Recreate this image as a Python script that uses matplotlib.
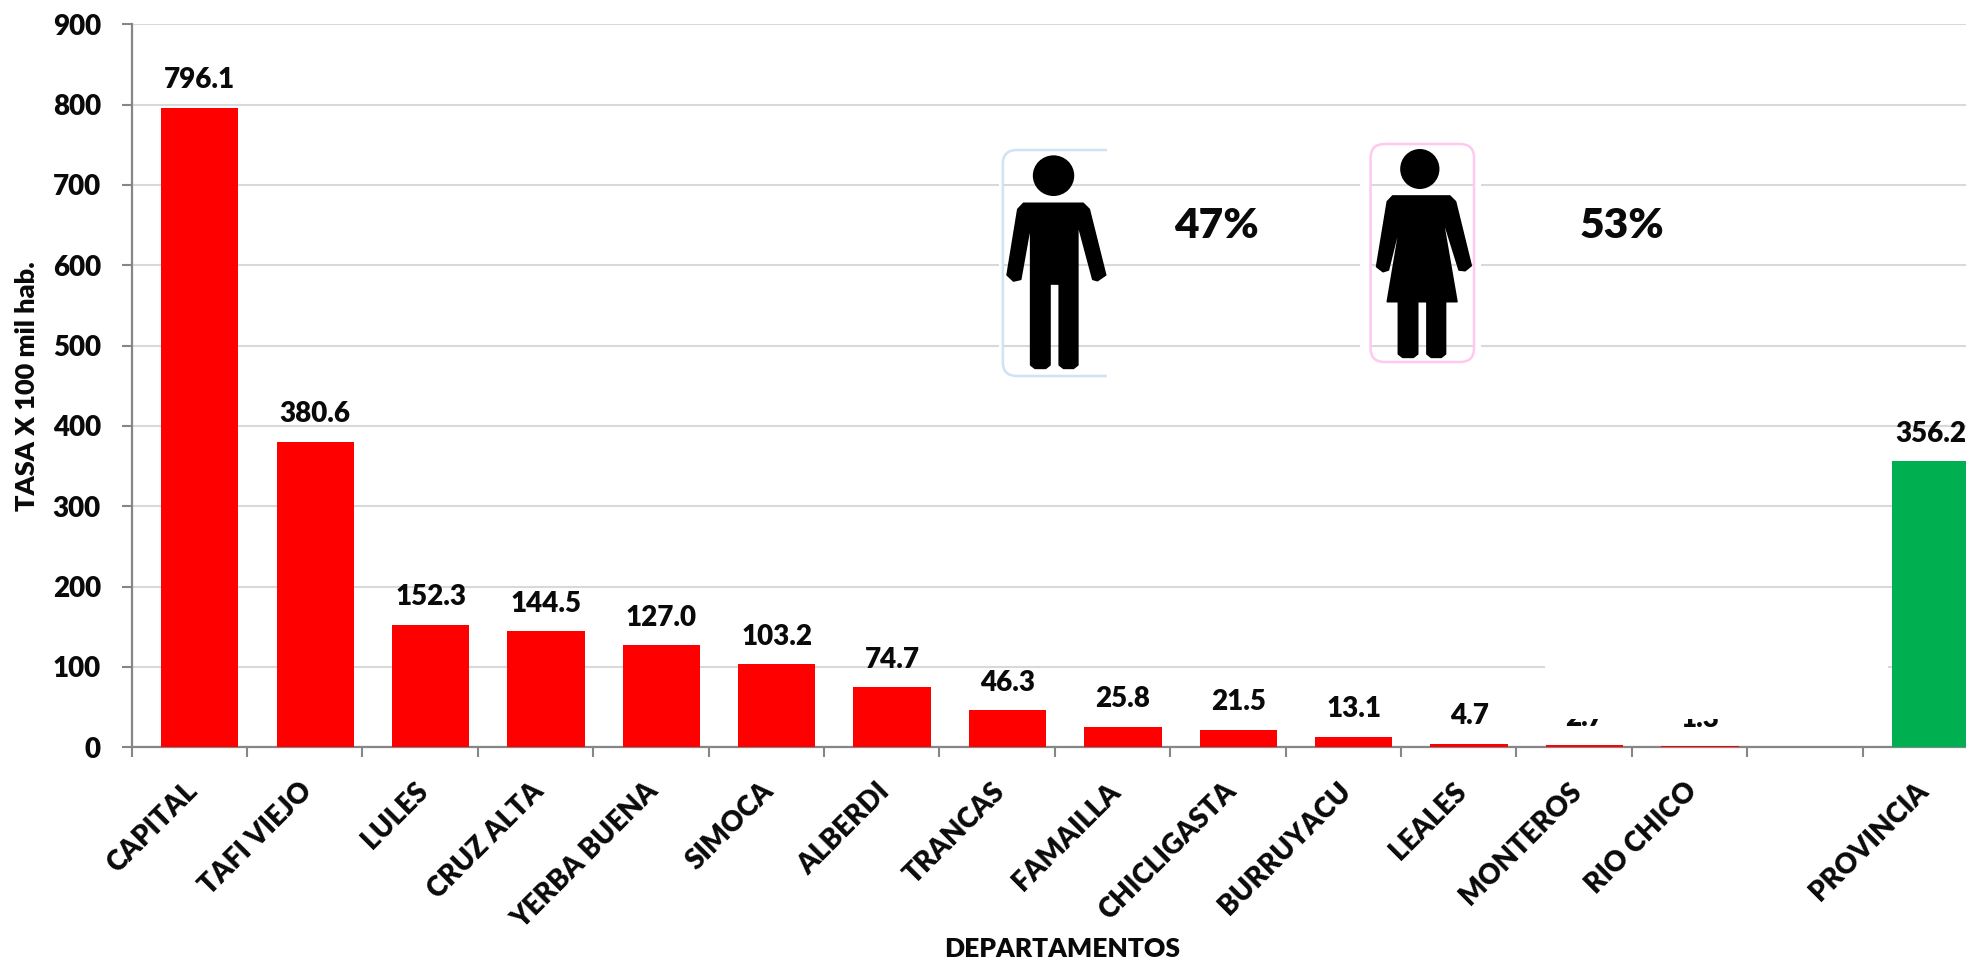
import matplotlib
matplotlib.use("Agg")
import matplotlib.pyplot as plt
from matplotlib.patches import Polygon, Ellipse, Rectangle, FancyBboxPatch

plt.rcParams['font.family'] = ['Lato', 'DejaVu Sans']
plt.rcParams['font.weight'] = 'heavy'

departamentos = ["CAPITAL", "TAFI VIEJO", "LULES", "CRUZ ALTA", "YERBA BUENA", "SIMOCA", "ALBERDI",
                 "TRANCAS", "FAMAILLA", "CHICLIGASTA", "BURRUYACU", "LEALES", "MONTEROS", "RIO CHICO"]
tasas = [796.1, 380.6, 152.3, 144.5, 127.0, 103.2, 74.7, 46.3, 25.8, 21.5, 13.1, 4.7, 2.7, 1.3]
provincia = "PROVINCIA"
tasa_provincia = 356.2
pct_varones = "47%"
pct_mujeres = "53%"
yticks = list(range(0, 901, 100))

W, H = 1966, 963
TXT = "#0a0a0a"
fig = plt.figure(figsize=(W / 100, H / 100), dpi=100)

# axes runs past the right edge of the picture, the green bar is cut off there
left, right, top, bottom = 131.7, 1978, 24.3, 747.3
ax = fig.add_axes([left / W, 1 - bottom / H, (right - left) / W, (bottom - top) / H])

pos = list(range(len(tasas)))
pos_prov = len(tasas) + 1
shift = 0.09  # bars sit a bit right of the middle of their slot
ax.bar([p + shift for p in pos], tasas, width=0.67, color="#ff0000", zorder=3)
ax.bar([pos_prov + shift], [tasa_provincia], width=0.67, color="#00b050", zorder=5)

for p, v in zip(pos + [pos_prov], tasas + [tasa_provincia]):
    ax.annotate(f"{v:.1f}", (p + shift, v), xytext=(0, 10.5), textcoords="offset points",
                ha="center", va="bottom", fontsize=20, color=TXT, zorder=4)

ax.set_xlim(-0.5, 15.5)
ax.set_ylim(0, 900)
ax.set_yticks(yticks)
ax.set_xticks([i - 0.5 for i in range(17)], labels=[])
ax.tick_params(axis="y", length=7.2, width=1.5, color="#868686", labelsize=20, labelcolor=TXT, pad=15)
ax.tick_params(axis="x", length=7.2, width=1.5, color="#868686")
ax.grid(axis="y", color="#d9d9d9", linewidth=1.5, zorder=0)
ax.set_axisbelow(True)
for s in ["top", "right"]:
    ax.spines[s].set_visible(False)
for s in ["left", "bottom"]:
    ax.spines[s].set_color("#868686")
    ax.spines[s].set_linewidth(1.6)
    ax.spines[s].set_zorder(2)

for p, name in zip(pos + [pos_prov], departamentos + [provincia]):
    ax.annotate(name, (p, 0), xytext=(-4, -22), textcoords="offset points", rotation=45,
                ha="right", va="top", rotation_mode="anchor", fontsize=20, color=TXT,
                annotation_clip=False)

fig.text(27 / W, 1 - 386 / H, "TASA X 100 mil hab.", rotation=90, ha="center", va="center",
         fontsize=19.5, color=TXT)
fig.text(1062 / W, 1 - 949 / H, "DEPARTAMENTOS", ha="center", va="center",
         fontsize=19, color=TXT)

# overlay in picture pixels for the pasted icons and white covers
ov = fig.add_axes([0, 0, 1, 1], facecolor="none")
ov.set_xlim(0, W)
ov.set_ylim(H, 0)
ov.axis("off")

# white box that hides the end of the 100 line and the top of the two last labels
ov.add_patch(Rectangle((1545, 600), 1888 - 1545, 119, color="white", lw=0, zorder=1))


def px(pts):
    return [(960 + x * 0.357, 120 + y / 3) for x, y in pts]


# small white gaps around the icons
for x0, x1 in [(108, 120), (1120, 1150), (1440, 1459)]:
    a = px([(x0, 90)])[0][0]
    b = px([(x1, 90)])[0][0]
    ov.add_patch(Rectangle((a, 140), b - a, 240, color="white", lw=0, zorder=1))

# icon frames, the man's frame is cut off on its right side
(x0, y0), (x1, y1) = px([(120, 90), (412, 768)])
man_frame = FancyBboxPatch((x0 + 14, y0 + 14), x1 - x0, y1 - y0 - 28,
                           boxstyle="round,pad=14,rounding_size=14", fc="none", ec="#cfe2f7", lw=1.8, zorder=2)
ov.add_patch(man_frame)
man_frame.set_clip_path(Rectangle((x0 - 5, y0 - 5), x1 - x0 + 5, y1 - y0 + 10, transform=ov.transData))
(x0, y0), (x1, y1) = px([(1150, 72), (1440, 726)])
ov.add_patch(FancyBboxPatch((x0 + 14, y0 + 14), x1 - x0 - 28, y1 - y0 - 28,
                            boxstyle="round,pad=14,rounding_size=14", fc="none", ec="#ffc8ee", lw=1.8, zorder=2))

# man
(cx, cy) = px([(262, 167)])[0]
ov.add_patch(Ellipse((cx, cy), 116 * 0.357, 122 / 3, color="black", lw=0, zorder=3))
ov.add_patch(Polygon(px([(178, 250), (345, 250), (362, 268), (408, 465), (385, 482), (372, 478), (330, 310),
                         (330, 735), (318, 745), (290, 745), (278, 735), (278, 492), (252, 492), (252, 735),
                         (240, 745), (210, 745), (198, 735), (198, 310), (170, 478), (150, 483), (132, 465),
                         (162, 268)]), closed=True, fc="black", ec="black", lw=1.2, joinstyle="round", zorder=3))
# woman
(cx, cy) = px([(1288, 147)])[0]
ov.add_patch(Ellipse((cx, cy), 110 * 0.357, 120 / 3, color="black", lw=0, zorder=3))
ov.add_patch(Polygon(px([(1212, 228), (1372, 228), (1388, 245), (1432, 437), (1415, 452), (1398, 450), (1350, 285),
                         (1392, 545), (1360, 545), (1360, 702), (1348, 712), (1320, 712), (1308, 702), (1308, 545),
                         (1282, 545), (1282, 702), (1270, 712), (1240, 712), (1228, 702), (1228, 545), (1197, 545),
                         (1238, 285), (1200, 450), (1185, 455), (1167, 440), (1197, 245)]),
                     closed=True, fc="black", ec="black", lw=1.2, joinstyle="round", zorder=3))

ov.text(1216, 226, pct_varones, ha="center", va="center", fontsize=30.5, color=TXT, zorder=4)
ov.text(1622, 226, pct_mujeres, ha="center", va="center", fontsize=30.5, color=TXT, zorder=4)

fig.savefig("out.png", dpi=100)
